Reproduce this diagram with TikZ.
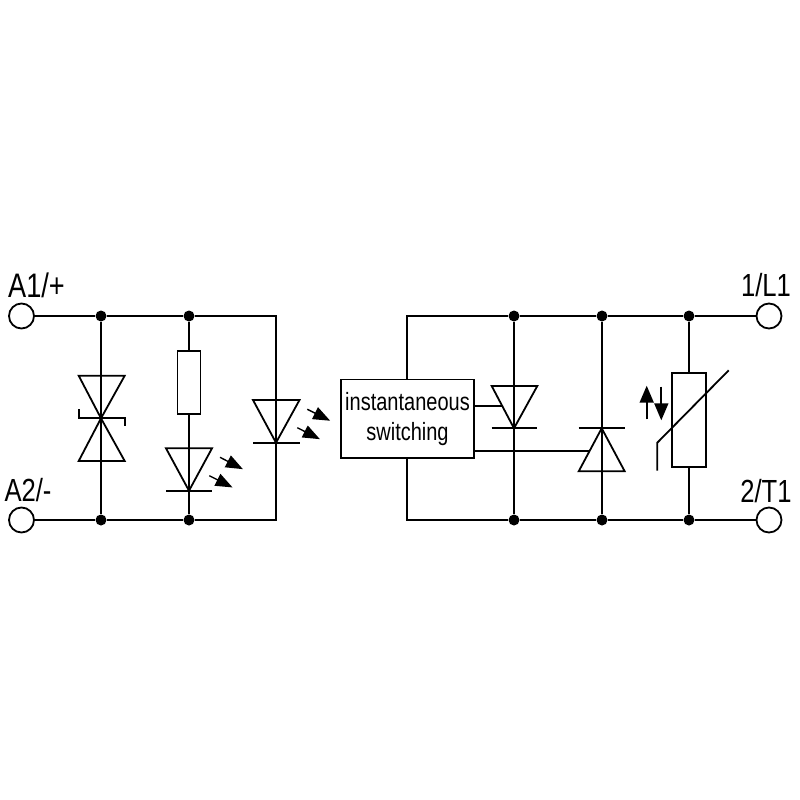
\documentclass[tikz,border=0pt]{standalone}
\usepackage{fontspec}
\setmainfont[FakeStretch=0.8]{Liberation Sans}
\usetikzlibrary{calc, positioning, arrows.meta}
\tikzstyle{dot}=[inner sep=0pt, fill=black, shape=circle, minimum size=11pt]
\tikzstyle{term}=[inner sep=0pt, draw, fill=white, shape=circle, minimum size=25pt]
\tikzstyle{res}=[inner sep=0pt, draw, shape=rectangle, fill=white]
\tikzstyle{lbl}=[inner sep=0pt, font=\fontsize{32}{32}\selectfont]
\tikzstyle{led}=[-{Triangle[length=17pt, width=13pt]}, line width=1.4pt, shorten >=-1pt]
\tikzstyle{flow}=[-{Triangle[length=17pt, width=14pt]}, line width=1.8pt, shorten >=-1pt]
\tikzset{>=stealth}

\begin{document}
\begin{tikzpicture}[x=1pt, y=-1pt, line width=1.8pt, line join=miter]
\useasboundingbox[fill=white] (0,0) rectangle (800,800);

\node[term] (T1) at (21.5,316) {};
\node[term] (T2) at (21.5,520) {};
\node[term] (T3) at (769,316) {};
\node[term] (T4) at (769,520) {};
\node[lbl, font=\fontsize{34}{34}\selectfont] (LA1) at (36.5,285) {A1/+};
\node[lbl] (LA2) at (28,490) {A2/-};
\node[lbl] (LL1) at (766,285) {1/L1};
\node[lbl] (LT1) at (766,491) {2/T1};

\node[dot] (D1) at (101,316) {};
\node[dot] (D2) at (189,316) {};
\node[dot] (D3) at (101,520) {};
\node[dot] (D4) at (189,520) {};
\node[dot] (D5) at (514,316) {};
\node[dot] (D6) at (602,316) {};
\node[dot] (D7) at (689,316) {};
\node[dot] (D8) at (514,520) {};
\node[dot] (D9) at (602,520) {};
\node[dot] (D10) at (689,520) {};
\coordinate (C1) at (276,316);
\coordinate (C2) at (276,520);
\coordinate (C3) at (407,316);
\coordinate (C4) at (407,520);

\node[res, minimum width=23pt, minimum height=62.5pt] (R1) at (189,382.5) {};
\node[res, minimum width=34.5pt, minimum height=93.5pt] (V1) at (689,420) {};
\node[res, minimum width=133.5pt, minimum height=78.5pt, align=center, font=\fontsize{25}{30}\selectfont] (S1) at (407.5,418.7) {instantaneous\\switching};

% main wires
\draw (T1) -- (D1) -- (D2) -- (C1) -- (C2) -- (D4) -- (D3) -- (T2);
\draw (S1.north -| C3) -- (C3) -- (D5) -- (D6) -- (D7) -- (T3);
\draw (S1.south -| C4) -- (C4) -- (D8) -- (D9) -- (D10) -- (T4);
\draw (D1) -- (D3);
\draw (D2) -- (R1) -- (D4);
\draw (D5) -- (D8);
\draw (D6) -- (D9);
\draw (D7) -- (V1) -- (D10);

% suppressor diode
\coordinate (Z1) at (101,418.3);
\draw (78.7,375.7) -- (124.7,375.7) -- (Z1) -- cycle;
\draw (78.7,461) -- (124.7,461) -- (Z1) -- cycle;
\draw (78.7,409.3) -- (78.7,418.3) -- (124.7,418.3) -- (124.7,425.7);

% leds
\draw (166,448.3) -- (212,448.3) -- (189,490.7) -- cycle;
\draw (166,490.7) -- (212,490.7);
\draw (253,400) -- (299.5,400) -- (276,442.7) -- cycle;
\draw (253,442.7) -- (299.5,442.7);
\coordinate (E1) at (220,457.3);
\coordinate (E2) at (242,468.7);
\coordinate (E3) at (209.3,475.7);
\coordinate (E4) at (231.7,487);
\coordinate (E5) at (307.3,409.3);
\coordinate (E6) at (329.3,420.3);
\coordinate (E7) at (297.3,427.7);
\coordinate (E8) at (319,438.7);
\draw[led] (E1) -- (E2);
\draw[led] (E3) -- (E4);
\draw[led] (E5) -- (E6);
\draw[led] (E7) -- (E8);

% thyristors
\draw (491.7,386) -- (537.3,386) -- (514,428.3) -- cycle;
\draw (491.7,428.3) -- (537.3,428.3);
\draw (578.7,471.3) -- (624.7,471.3) -- (601.7,428.3) -- cycle;
\draw (578.7,428.3) -- (624.7,428.3);
\coordinate (G1) at (501.7,406.3);
\coordinate (G2) at (589,451);
\draw (S1.east |- G1) -- (G1);
\draw (S1.east |- G2) -- (G2);

% varistor
\coordinate (V2) at (728.7,370.3);
\coordinate (V3) at (657.3,442.7);
\coordinate (V4) at (657.3,470.7);
\draw (V2) -- (V3) -- (V4);
\coordinate (F1) at (646.7,419.3);
\coordinate (F2) at (646.7,386.7);
\coordinate (F3) at (661.3,386.7);
\coordinate (F4) at (661.3,419.3);
\draw[flow] (F1) -- (F2);
\draw[flow] (F3) -- (F4);
\end{tikzpicture}
\end{document}
